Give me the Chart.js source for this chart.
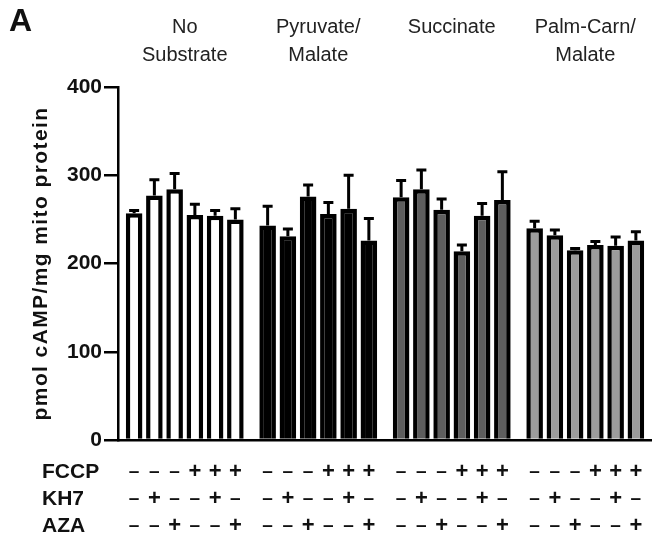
<!DOCTYPE html>
<html>
<head>
<meta charset="utf-8">
<script src="https://cdn.jsdelivr.net/npm/chart.js@4/dist/chart.umd.min.js"></script>
<style>
  html, body { margin: 0; padding: 0; background: #fff; }
  #wrap { position: relative; width: 652px; height: 544px; }
</style>
</head>
<body>
<div id="wrap"><canvas id="cAMP_chart"></canvas></div>
<script>
// substrate groups (top labels)
const groups = [['No', 'Substrate'], ['Pyruvate/', 'Malate'], ['Succinate', ''], ['Palm-Carn/', 'Malate']];

// treatment rows under the axis
const fccp = ['-', '-', '-', '+', '+', '+'];
const kh7 = ['-', '+', '-', '-', '+', '-'];
const aza = ['-', '-', '+', '-', '-', '+'];

// mean values, pmol cAMP/mg mito protein (6 conditions per group)
const noSubstrate = [257, 277, 284, 255, 254, 250];
const pyruvateMalate = [243, 231, 276, 256, 262, 226];
const succinate = [275, 284, 261, 214, 254, 272];
const palmCarnMalate = [240, 232, 215, 221, 220, 226];

// SEM (upper error bar only)
const noSubstrateErr = [3, 18, 18, 12, 6, 12];
const pyruvateMalateErr = [22, 8, 13, 13, 38, 25];
const succinateErr = [19, 22, 12, 7, 14, 32];
const palmCarnMalateErr = [8, 6, 2, 4, 10, 10];

const yTicks = [0, 100, 200, 300, 400];
const yTitle = 'pmol cAMP/mg mito protein';

const groupFill = ['#ffffff', '#000000', '#5e5e5e', '#9c9c9c'];

const means = [noSubstrate, pyruvateMalate, succinate, palmCarnMalate];
const errs = [noSubstrateErr, pyruvateMalateErr, succinateErr, palmCarnMalateErr];

const FONT = '"Liberation Sans", Arial, sans-serif';
const ctx = document.getElementById('cAMP_chart').getContext('2d');

// one dataset per condition, one data point per substrate group
let datasets = [];
for (let c = 0; c < 6; c++) {
  datasets.push({
    label: fccp[c] + kh7[c] + aza[c],
    data: means.map(g => g[c]),
    err: errs.map(g => g[c]),
    backgroundColor: groupFill,
    borderColor: '#000',
    borderWidth: 4.5,
    borderSkipped: 'bottom',
    barPercentage: 0.82,
    categoryPercentage: 0.91
  });
}

const errorBars = {
  id: 'errorBars',
  afterDatasetsDraw(chart) {
    const c = chart.ctx;
    const y = chart.scales.y;
    c.save();
    c.strokeStyle = '#000';
    c.lineWidth = 3;
    chart.data.datasets.forEach((ds, i) => {
      chart.getDatasetMeta(i).data.forEach((bar, j) => {
        const top = y.getPixelForValue(ds.data[j] + ds.err[j]);
        c.beginPath();
        c.moveTo(bar.x, bar.y);
        c.lineTo(bar.x, top);
        c.moveTo(bar.x - 5, top);
        c.lineTo(bar.x + 5, top);
        c.stroke();
      });
    });
    c.restore();
  }
};

const labelsPlugin = {
  id: 'labelsPlugin',
  afterDraw(chart) {
    const c = chart.ctx;
    const x = chart.scales.x;
    const area = chart.chartArea;
    c.save();
    c.fillStyle = '#111';
    c.textBaseline = 'middle';

    // panel letter
    c.font = 'bold 32px ' + FONT;
    c.textAlign = 'left';
    c.fillText('A', 9, 22);

    // y title, spaced a little like the original
    c.save();
    c.translate(41, (area.top + area.bottom) / 2);
    c.rotate(-Math.PI / 2);
    c.textAlign = 'center';
    c.font = 'bold 21px ' + FONT;
    c.letterSpacing = '1.4px';
    c.fillText(yTitle, 0, 0);
    c.restore();

    // group titles
    c.textAlign = 'center';
    c.font = '20px ' + FONT;
    c.fillStyle = '#222';
    groups.forEach((g, i) => {
      const cx = x.getPixelForValue(i);
      c.fillText(g[0], cx, 27);
      if (g[1]) c.fillText(g[1], cx, 55);
    });

    // treatment rows
    const rows = [['FCCP', fccp, 472], ['KH7', kh7, 499], ['AZA', aza, 526]];
    c.fillStyle = '#111';
    rows.forEach(r => {
      c.font = 'bold 21px ' + FONT;
      c.textAlign = 'left';
      c.fillText(r[0], 42, r[2]);
      c.textAlign = 'center';
      chart.data.datasets.forEach((ds, i) => {
        chart.getDatasetMeta(i).data.forEach(bar => {
          if (r[1][i] === '-') {
            c.font = 'bold 19px ' + FONT;
            c.fillText('\u2013', bar.x, r[2]);
          } else {
            c.font = 'bold 22px ' + FONT;
            c.fillText('+', bar.x, r[2]);
          }
        });
      });
    });
    c.restore();
  }
};

new Chart(ctx, {
  type: 'bar',
  data: {
    labels: groups.map(g => g.join(' ')),
    datasets: datasets
  },
  options: {
    responsive: true,
    maintainAspectRatio: false,
    animation: false,
    layout: { padding: { left: 0, right: 0, top: 87, bottom: 104 } },
    plugins: { legend: { display: false }, tooltip: { enabled: false } },
    scales: {
      x: {
        ticks: { display: false },
        grid: { display: false },
        border: { color: '#000', width: 2.5 },
        afterFit(scale) { scale.height = 0; }
      },
      y: {
        min: 0,
        max: 400,
        afterBuildTicks(scale) { scale.ticks = yTicks.map(v => ({ value: v })); },
        afterFit(scale) { scale.width = 118; },
        ticks: {
          color: '#111',
          padding: 2,
          font: { family: FONT, size: 21, weight: 'bold' }
        },
        grid: { drawOnChartArea: false, tickLength: 14, color: '#000', lineWidth: 2.5 },
        border: { color: '#000', width: 2.5 }
      }
    }
  },
  plugins: [errorBars, labelsPlugin]
});
</script>
</body>
</html>
